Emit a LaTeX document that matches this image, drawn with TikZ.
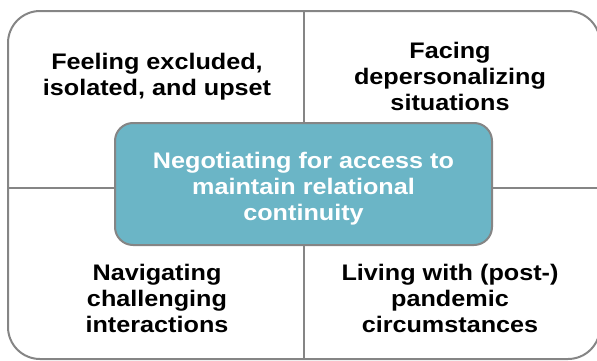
\documentclass[tikz,border=0pt]{standalone}
\usepackage{fontspec}
\setmainfont{Liberation Sans}[FakeStretch=1.12]
\usetikzlibrary{positioning}
\definecolor{seablue}{HTML}{6BB5C6}
\definecolor{frame}{HTML}{858585}
\def\themefont{\bfseries\fontsize{22.5}{26}\selectfont}
\tikzstyle{theme} = [align=center, text=black, font=\themefont]
\tikzstyle{core} = [rectangle, rounded corners=18pt, draw=frame, line width=2pt, fill=seablue, minimum width=377pt, minimum height=122pt]
\tikzstyle{rule} = [draw=frame, line width=2pt]

\begin{document}
\begin{tikzpicture}[x=1pt, y=1pt]
  \clip (0,0) rectangle (597,360);

  % frame and quadrant rules
  \draw [rule, rounded corners=32pt] (8,1) rectangle (600,349);
  \draw [rule] (304,1) -- (304,349);
  \draw [rule] (8,172.5) -- (600,172.5);

  \node (centre) [core] at (303.5,176) {};
  \node (centre text) [theme, text=white] at ([yshift=-5pt]centre) {Negotiating for access to\\ maintain relational\\ continuity};

  \node (excluded) [theme] at (157,283) {Feeling excluded,\\ isolated, and upset};
  \node (facing) [theme] at (450,284) {Facing\\ depersonalizing\\ situations};
  \node (navigating) [theme] at (157,62) {Navigating\\ challenging\\ interactions};
  \node (living) [theme] at (450,62) {Living with (post-)\\ pandemic\\ circumstances};

\end{tikzpicture}
\end{document}
